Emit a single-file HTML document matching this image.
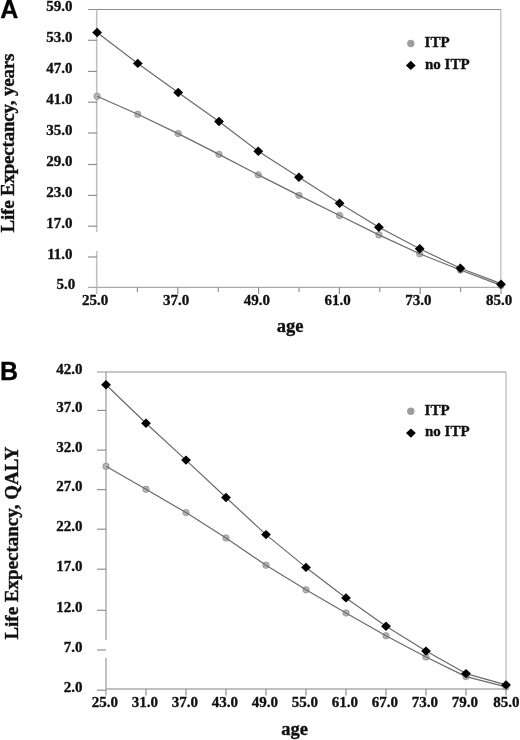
<!DOCTYPE html>
<html><head><meta charset="utf-8"><style>
html,body{margin:0;padding:0;background:#fff;}
body{width:520px;height:740px;overflow:hidden;}
svg{display:block;filter:grayscale(1);}
text{font-family:"Liberation Serif",serif;font-weight:bold;fill:#111;stroke:#111;stroke-width:0.35px;}
.lab{font-size:15px;}
.ttl{font-size:19px;stroke-width:0.4px;}
.age{font-size:18.5px;stroke-width:0.35px;}
.leg{font-size:15px;}
.big{font-family:"Liberation Sans",sans-serif;font-size:25px;fill:#000;stroke:#000;stroke-width:0.3px;}
</style></head><body>
<svg width="520" height="740" viewBox="0 0 520 740">
<rect width="520" height="740" fill="#fff"/>
<line x1="88" y1="9.5" x2="500.8" y2="9.5" stroke="#8c8c8c" stroke-width="1.1"/>
<line x1="500.8" y1="9.5" x2="500.8" y2="287.3" stroke="#c4c4c4" stroke-width="1.4"/>
<line x1="96.7" y1="9.5" x2="96.7" y2="232" stroke="#c0c0c0" stroke-width="1.6"/>
<line x1="96.7" y1="251" x2="96.7" y2="294" stroke="#c0c0c0" stroke-width="1.6"/>
<line x1="88" y1="287.3" x2="500.8" y2="287.3" stroke="#aaaaaa" stroke-width="1.2"/>
<line x1="88" y1="40.3" x2="97" y2="40.3" stroke="#909090" stroke-width="1.2"/>
<line x1="88" y1="71.4" x2="97" y2="71.4" stroke="#909090" stroke-width="1.2"/>
<line x1="88" y1="102.2" x2="97" y2="102.2" stroke="#909090" stroke-width="1.2"/>
<line x1="88" y1="133" x2="97" y2="133" stroke="#909090" stroke-width="1.2"/>
<line x1="88" y1="164.5" x2="97" y2="164.5" stroke="#909090" stroke-width="1.2"/>
<line x1="88" y1="195.4" x2="97" y2="195.4" stroke="#909090" stroke-width="1.2"/>
<line x1="88" y1="226.2" x2="97" y2="226.2" stroke="#909090" stroke-width="1.2"/>
<line x1="88" y1="257" x2="97" y2="257" stroke="#909090" stroke-width="1.2"/>
<line x1="137.4" y1="287.3" x2="137.4" y2="292" stroke="#909090" stroke-width="1.2"/>
<line x1="177.8" y1="287.3" x2="177.8" y2="294" stroke="#909090" stroke-width="1.2"/>
<line x1="218.2" y1="287.3" x2="218.2" y2="292" stroke="#909090" stroke-width="1.2"/>
<line x1="258.6" y1="287.3" x2="258.6" y2="294" stroke="#909090" stroke-width="1.2"/>
<line x1="299.0" y1="287.3" x2="299.0" y2="292" stroke="#909090" stroke-width="1.2"/>
<line x1="339.4" y1="287.3" x2="339.4" y2="294" stroke="#909090" stroke-width="1.2"/>
<line x1="379.8" y1="287.3" x2="379.8" y2="292" stroke="#909090" stroke-width="1.2"/>
<line x1="420.2" y1="287.3" x2="420.2" y2="294" stroke="#909090" stroke-width="1.2"/>
<line x1="460.59999999999997" y1="287.3" x2="460.59999999999997" y2="292" stroke="#909090" stroke-width="1.2"/>
<line x1="501.0" y1="287.3" x2="501.0" y2="294" stroke="#909090" stroke-width="1.2"/>
<circle cx="97.10" cy="96.25" r="3.2" fill="#b6b6b6" stroke="#8a8a8a" stroke-width="0.7"/>
<circle cx="137.80" cy="114.30" r="3.2" fill="#b6b6b6" stroke="#8a8a8a" stroke-width="0.7"/>
<circle cx="178.20" cy="133.60" r="3.2" fill="#b6b6b6" stroke="#8a8a8a" stroke-width="0.7"/>
<circle cx="219.00" cy="154.35" r="3.2" fill="#b6b6b6" stroke="#8a8a8a" stroke-width="0.7"/>
<circle cx="258.30" cy="174.85" r="3.2" fill="#b6b6b6" stroke="#8a8a8a" stroke-width="0.7"/>
<circle cx="298.90" cy="195.35" r="3.2" fill="#b6b6b6" stroke="#8a8a8a" stroke-width="0.7"/>
<circle cx="339.60" cy="215.55" r="3.2" fill="#b6b6b6" stroke="#8a8a8a" stroke-width="0.7"/>
<circle cx="378.90" cy="234.90" r="3.2" fill="#b6b6b6" stroke="#8a8a8a" stroke-width="0.7"/>
<circle cx="419.70" cy="253.80" r="3.2" fill="#b6b6b6" stroke="#8a8a8a" stroke-width="0.7"/>
<circle cx="460.40" cy="270.00" r="3.2" fill="#b6b6b6" stroke="#8a8a8a" stroke-width="0.7"/>
<circle cx="501.00" cy="285.40" r="3.2" fill="#b6b6b6" stroke="#8a8a8a" stroke-width="0.7"/>
<polyline fill="none" stroke="#6a6a6a" stroke-width="1.2" stroke-linejoin="round" points="97.10,96.25 137.80,114.30 178.20,133.60 219.00,154.35 258.30,174.85 298.90,195.35 339.60,215.55 378.90,234.90 419.70,253.80 460.40,270.00 501.00,285.40"/>
<polyline fill="none" stroke="#6a6a6a" stroke-width="1.2" stroke-linejoin="round" points="97.10,32.50 137.80,63.40 178.20,92.50 219.00,121.50 258.30,151.20 298.90,177.20 339.60,203.30 378.90,227.20 419.70,248.80 460.40,268.30 501.00,283.60"/>
<path d="M97.10 27.80L102.00 32.50L97.10 37.20L92.20 32.50Z" fill="#000"/>
<path d="M137.80 58.70L142.70 63.40L137.80 68.10L132.90 63.40Z" fill="#000"/>
<path d="M178.20 87.80L183.10 92.50L178.20 97.20L173.30 92.50Z" fill="#000"/>
<path d="M219.00 116.80L223.90 121.50L219.00 126.20L214.10 121.50Z" fill="#000"/>
<path d="M258.30 146.50L263.20 151.20L258.30 155.90L253.40 151.20Z" fill="#000"/>
<path d="M298.90 172.50L303.80 177.20L298.90 181.90L294.00 177.20Z" fill="#000"/>
<path d="M339.60 198.60L344.50 203.30L339.60 208.00L334.70 203.30Z" fill="#000"/>
<path d="M378.90 222.50L383.80 227.20L378.90 231.90L374.00 227.20Z" fill="#000"/>
<path d="M419.70 244.10L424.60 248.80L419.70 253.50L414.80 248.80Z" fill="#000"/>
<path d="M460.40 263.60L465.30 268.30L460.40 273.00L455.50 268.30Z" fill="#000"/>
<path d="M501.00 279.50L505.90 284.20L501.00 288.90L496.10 284.20Z" fill="#000"/>
<text x="72.6" y="11.3" class="lab" text-anchor="end">59.0</text>
<text x="72.6" y="42.099999999999994" class="lab" text-anchor="end">53.0</text>
<text x="72.6" y="73.2" class="lab" text-anchor="end">47.0</text>
<text x="72.6" y="104.0" class="lab" text-anchor="end">41.0</text>
<text x="72.6" y="134.8" class="lab" text-anchor="end">35.0</text>
<text x="72.6" y="166.3" class="lab" text-anchor="end">29.0</text>
<text x="72.6" y="197.20000000000002" class="lab" text-anchor="end">23.0</text>
<text x="72.6" y="228.0" class="lab" text-anchor="end">17.0</text>
<text x="72.6" y="258.8" class="lab" text-anchor="end">11.0</text>
<text x="75.3" y="289.1" class="lab" text-anchor="end">5.0</text>
<text x="95.2" y="305.4" class="lab" text-anchor="middle">25.0</text>
<text x="176.0" y="305.4" class="lab" text-anchor="middle">37.0</text>
<text x="256.8" y="305.4" class="lab" text-anchor="middle">49.0</text>
<text x="337.59999999999997" y="305.4" class="lab" text-anchor="middle">61.0</text>
<text x="418.4" y="305.4" class="lab" text-anchor="middle">73.0</text>
<text x="499.2" y="305.4" class="lab" text-anchor="middle">85.0</text>
<text x="290" y="331.5" class="age" text-anchor="middle">age</text>
<text transform="translate(14.4,232.5) rotate(-90)" class="ttl" style="letter-spacing:-0.2px">Life Expectancy, years</text>
<text x="0.3" y="17.9" class="big">A</text>
<circle cx="410.8" cy="43.5" r="3.7" fill="#9e9e9e"/>
<text x="424.6" y="46.7" class="leg">ITP</text>
<path d="M410.80 60.70L415.70 65.40L410.80 70.10L405.90 65.40Z" fill="#000"/>
<text x="425" y="68.6" class="leg">no ITP</text>
<line x1="97" y1="372" x2="506" y2="372" stroke="#b4b4b4" stroke-width="1.5"/>
<line x1="506" y1="372" x2="506" y2="689" stroke="#cacaca" stroke-width="1.6"/>
<line x1="106" y1="372" x2="106" y2="640" stroke="#b2b2b2" stroke-width="1.6"/>
<line x1="106" y1="658" x2="106" y2="695.5" stroke="#b2b2b2" stroke-width="1.6"/>
<line x1="106" y1="689" x2="506" y2="689" stroke="#ababab" stroke-width="1.6"/>
<line x1="97" y1="690.2" x2="106" y2="690.2" stroke="#909090" stroke-width="1.2"/>
<line x1="97" y1="410.4" x2="106" y2="410.4" stroke="#909090" stroke-width="1.2"/>
<line x1="97" y1="450.1" x2="106" y2="450.1" stroke="#909090" stroke-width="1.2"/>
<line x1="97" y1="489.6" x2="106" y2="489.6" stroke="#909090" stroke-width="1.2"/>
<line x1="97" y1="529.2" x2="106" y2="529.2" stroke="#909090" stroke-width="1.2"/>
<line x1="97" y1="569.2" x2="106" y2="569.2" stroke="#909090" stroke-width="1.2"/>
<line x1="97" y1="610.3" x2="106" y2="610.3" stroke="#909090" stroke-width="1.2"/>
<line x1="97" y1="650" x2="106" y2="650" stroke="#909090" stroke-width="1.2"/>
<line x1="146" y1="689" x2="146" y2="695.5" stroke="#909090" stroke-width="1.2"/>
<line x1="186" y1="689" x2="186" y2="695.5" stroke="#909090" stroke-width="1.2"/>
<line x1="226" y1="689" x2="226" y2="695.5" stroke="#909090" stroke-width="1.2"/>
<line x1="266" y1="689" x2="266" y2="695.5" stroke="#909090" stroke-width="1.2"/>
<line x1="306" y1="689" x2="306" y2="695.5" stroke="#909090" stroke-width="1.2"/>
<line x1="346" y1="689" x2="346" y2="695.5" stroke="#909090" stroke-width="1.2"/>
<line x1="386" y1="689" x2="386" y2="695.5" stroke="#909090" stroke-width="1.2"/>
<line x1="426" y1="689" x2="426" y2="695.5" stroke="#909090" stroke-width="1.2"/>
<line x1="466" y1="689" x2="466" y2="695.5" stroke="#909090" stroke-width="1.2"/>
<line x1="506" y1="689" x2="506" y2="695.5" stroke="#909090" stroke-width="1.2"/>
<circle cx="106.00" cy="466.30" r="3.2" fill="#b6b6b6" stroke="#8a8a8a" stroke-width="0.7"/>
<circle cx="146.00" cy="489.30" r="3.2" fill="#b6b6b6" stroke="#8a8a8a" stroke-width="0.7"/>
<circle cx="186.00" cy="512.60" r="3.2" fill="#b6b6b6" stroke="#8a8a8a" stroke-width="0.7"/>
<circle cx="226.00" cy="538.00" r="3.2" fill="#b6b6b6" stroke="#8a8a8a" stroke-width="0.7"/>
<circle cx="266.00" cy="565.20" r="3.2" fill="#b6b6b6" stroke="#8a8a8a" stroke-width="0.7"/>
<circle cx="306.00" cy="589.80" r="3.2" fill="#b6b6b6" stroke="#8a8a8a" stroke-width="0.7"/>
<circle cx="346.00" cy="613.00" r="3.2" fill="#b6b6b6" stroke="#8a8a8a" stroke-width="0.7"/>
<circle cx="386.00" cy="635.80" r="3.2" fill="#b6b6b6" stroke="#8a8a8a" stroke-width="0.7"/>
<circle cx="426.00" cy="657.00" r="3.2" fill="#b6b6b6" stroke="#8a8a8a" stroke-width="0.7"/>
<circle cx="466.00" cy="676.60" r="3.2" fill="#b6b6b6" stroke="#8a8a8a" stroke-width="0.7"/>
<circle cx="506.00" cy="686.90" r="3.2" fill="#b6b6b6" stroke="#8a8a8a" stroke-width="0.7"/>
<polyline fill="none" stroke="#6a6a6a" stroke-width="1.2" stroke-linejoin="round" points="106.00,466.30 146.00,489.30 186.00,512.60 226.00,538.00 266.00,565.20 306.00,589.80 346.00,613.00 386.00,635.80 426.00,657.00 466.00,676.60 506.00,686.90"/>
<polyline fill="none" stroke="#6a6a6a" stroke-width="1.2" stroke-linejoin="round" points="106.00,384.80 146.00,423.20 186.00,460.10 226.00,497.50 266.00,534.60 306.00,567.40 346.00,597.90 386.00,626.30 426.00,651.10 466.00,673.60 506.00,684.90"/>
<path d="M106.00 380.10L110.90 384.80L106.00 389.50L101.10 384.80Z" fill="#000"/>
<path d="M146.00 418.50L150.90 423.20L146.00 427.90L141.10 423.20Z" fill="#000"/>
<path d="M186.00 455.40L190.90 460.10L186.00 464.80L181.10 460.10Z" fill="#000"/>
<path d="M226.00 492.80L230.90 497.50L226.00 502.20L221.10 497.50Z" fill="#000"/>
<path d="M266.00 529.90L270.90 534.60L266.00 539.30L261.10 534.60Z" fill="#000"/>
<path d="M306.00 562.70L310.90 567.40L306.00 572.10L301.10 567.40Z" fill="#000"/>
<path d="M346.00 593.20L350.90 597.90L346.00 602.60L341.10 597.90Z" fill="#000"/>
<path d="M386.00 621.60L390.90 626.30L386.00 631.00L381.10 626.30Z" fill="#000"/>
<path d="M426.00 646.40L430.90 651.10L426.00 655.80L421.10 651.10Z" fill="#000"/>
<path d="M466.00 668.90L470.90 673.60L466.00 678.30L461.10 673.60Z" fill="#000"/>
<path d="M506.00 680.20L510.90 684.90L506.00 689.60L501.10 684.90Z" fill="#000"/>
<text x="82.6" y="373.7" class="lab" text-anchor="end">42.0</text>
<text x="82.6" y="412.09999999999997" class="lab" text-anchor="end">37.0</text>
<text x="82.6" y="451.8" class="lab" text-anchor="end">32.0</text>
<text x="82.6" y="491.3" class="lab" text-anchor="end">27.0</text>
<text x="82.6" y="530.9000000000001" class="lab" text-anchor="end">22.0</text>
<text x="82.6" y="570.9000000000001" class="lab" text-anchor="end">17.0</text>
<text x="82.6" y="612.0" class="lab" text-anchor="end">12.0</text>
<text x="82.6" y="651.7" class="lab" text-anchor="end">7.0</text>
<text x="82.6" y="691.8000000000001" class="lab" text-anchor="end">2.0</text>
<text x="104.8" y="707.3" class="lab" text-anchor="middle">25.0</text>
<text x="144.8" y="707.3" class="lab" text-anchor="middle">31.0</text>
<text x="184.8" y="707.3" class="lab" text-anchor="middle">37.0</text>
<text x="224.8" y="707.3" class="lab" text-anchor="middle">43.0</text>
<text x="264.8" y="707.3" class="lab" text-anchor="middle">49.0</text>
<text x="304.8" y="707.3" class="lab" text-anchor="middle">55.0</text>
<text x="344.8" y="707.3" class="lab" text-anchor="middle">61.0</text>
<text x="384.8" y="707.3" class="lab" text-anchor="middle">67.0</text>
<text x="424.8" y="707.3" class="lab" text-anchor="middle">73.0</text>
<text x="464.8" y="707.3" class="lab" text-anchor="middle">79.0</text>
<text x="506.3" y="707.3" class="lab" text-anchor="middle">85.0</text>
<text x="294.7" y="734.7" class="age" text-anchor="middle">age</text>
<text transform="translate(18.3,639.6) rotate(-90)" class="ttl">Life Expectancy, QALY</text>
<text x="0" y="379.9" class="big">B</text>
<circle cx="410.8" cy="411.3" r="3.7" fill="#9e9e9e"/>
<text x="424.6" y="414.8" class="leg">ITP</text>
<path d="M410.90 428.40L415.80 433.10L410.90 437.80L406.00 433.10Z" fill="#000"/>
<text x="425" y="435.9" class="leg">no ITP</text>
</svg>
</body></html>
